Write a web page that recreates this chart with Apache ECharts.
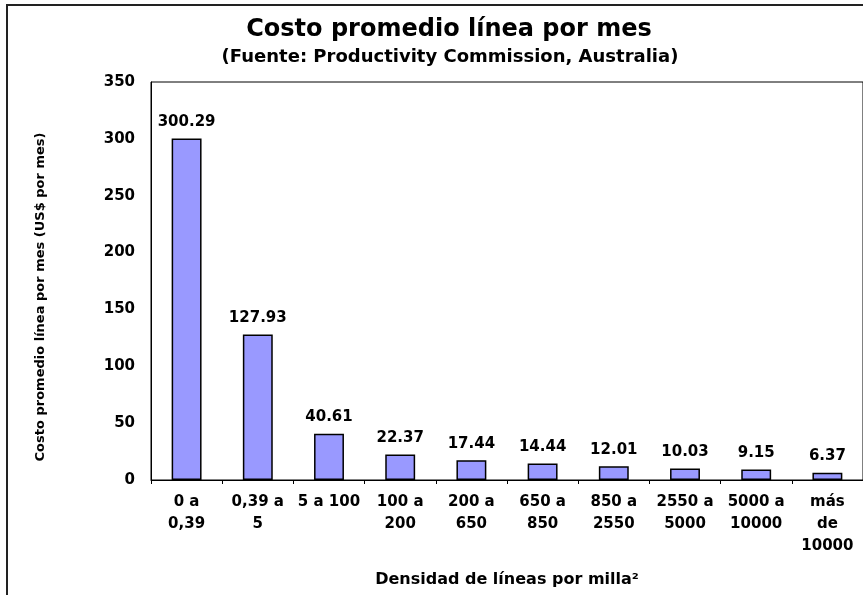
<!DOCTYPE html>
<html>
<head>
<meta charset="utf-8">
<script src="https://cdn.jsdelivr.net/npm/echarts@6/dist/echarts.min.js"></script>
<style>
html,body{margin:0;padding:0;background:#fff;}
#c{width:863px;height:595px;}
</style>
</head>
<body>
<div id="c"></div>
<script>
var categories = ["0 a\n0,39", "0,39 a\n5", "5 a 100", "100 a\n200", "200 a\n650", "650 a\n850", "850 a\n2550", "2550 a\n5000", "5000 a\n10000", "más\nde\n10000"];
var values = [300.29, 127.93, 40.61, 22.37, 17.44, 14.44, 12.01, 10.03, 9.15, 6.37];
var titleText = "Costo promedio línea por mes";
var subtitleText = "(Fuente: Productivity Commission, Australia)";
var xAxisName = "Densidad de líneas por milla²";
var yAxisName = "Costo promedio línea por mes (US$ por mes)";

var FONT = "DejaVu Sans";
var chart = echarts.init(document.getElementById('c'), null, {renderer: 'canvas'});
chart.setOption({
  animation: false,
  backgroundColor: '#fff',
  title: [
    {text: titleText, left: 444, top: 13, textAlign: 'center',
     textStyle: {fontFamily: FONT, fontWeight: 'bold', fontSize: 24, color: '#000'}},
    {text: subtitleText, left: 445, top: 43, textAlign: 'center',
     textStyle: {fontFamily: FONT, fontWeight: 'bold', fontSize: 18, color: '#000'}}
  ],
  graphic: [{
    type: 'rect', silent: true, z: 100,
    shape: {x: 7, y: 5, width: 900, height: 700},
    style: {fill: 'none', stroke: '#222', lineWidth: 2}
  }],
  grid: {left: 151, top: 82, right: -4, bottom: 115, show: true, borderColor: '#000', borderWidth: 1, backgroundColor: '#fff'},
  xAxis: {
    type: 'category', data: categories,
    name: xAxisName, nameLocation: 'middle', nameGap: 92,
    nameTextStyle: {fontFamily: FONT, fontWeight: 'bold', fontSize: 16, color: '#000'},
    axisLine: {lineStyle: {color: '#000', width: 1}},
    axisTick: {show: true, length: 4, lineStyle: {color: '#000'}},
    axisLabel: {fontFamily: FONT, fontWeight: 'bold', fontSize: 15, color: '#000', lineHeight: 22, margin: 11, interval: 0}
  },
  yAxis: {
    type: 'value', min: 0, max: 350, interval: 50,
    name: yAxisName, nameLocation: 'middle', nameGap: 104, nameRotate: 90,
    nameTextStyle: {fontFamily: FONT, fontWeight: 'bold', fontSize: 13, color: '#000', padding: [0, 32, 0, 0]},
    axisLine: {show: true, lineStyle: {color: '#000', width: 1}},
    axisTick: {show: false},
    splitLine: {show: false},
    axisLabel: {fontFamily: FONT, fontWeight: 'bold', fontSize: 15, color: '#000', margin: 16}
  },
  series: [{
    type: 'bar', data: values, barWidth: '42%',
    itemStyle: {color: '#9999FF', borderColor: '#000', borderWidth: 1.5},
    label: {show: true, position: 'top', distance: 9,
      fontFamily: FONT, fontWeight: 'bold', fontSize: 15, color: '#000',
      formatter: function(p){ return p.value.toFixed(2); }}
  }]
});
</script>
</body>
</html>
